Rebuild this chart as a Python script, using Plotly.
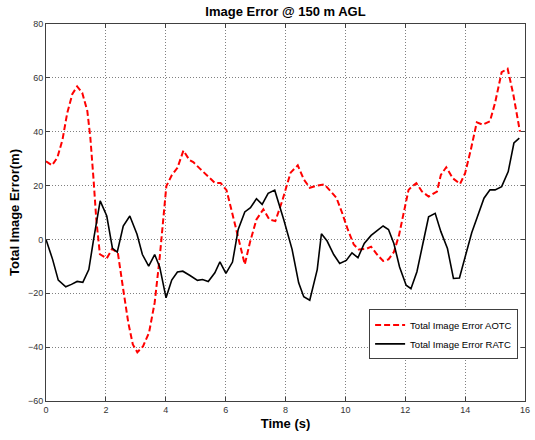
import plotly.graph_objects as go

# Total image error, AOTC (red dashed)
t_aotc = [0.0, 0.2, 0.38, 0.55, 0.71, 0.88, 1.04, 1.21, 1.38, 1.48, 1.59, 1.68, 1.8, 2.03,
          2.21, 2.4, 2.58, 2.75, 2.9, 3.05, 3.24, 3.44, 3.63, 3.8, 4.02, 4.2, 4.39, 4.59,
          4.79, 4.92, 5.14, 5.42, 5.64, 5.83, 6.03, 6.26, 6.48, 6.64, 6.81, 7.03, 7.26,
          7.46, 7.66, 7.89, 8.17, 8.41, 8.61, 8.81, 9.06, 9.3, 9.5, 9.7, 9.89, 10.08,
          10.28, 10.44, 10.7, 10.86, 11.06, 11.26, 11.44, 11.62, 11.79, 11.94, 12.11,
          12.22, 12.37, 12.56, 12.78, 13.06, 13.19, 13.37, 13.59, 13.83, 14.0, 14.19,
          14.39, 14.59, 14.83, 15.0, 15.22, 15.42, 15.61, 15.83]
aotc = [29.0, 27.5, 30.4, 37.0, 47.0, 54.0, 56.8, 54.5, 47.7, 38.0, 22.0, 7.4, -5.5, -7.0,
        -3.5, -5.0, -18.6, -31.0, -39.0, -41.9, -39.7, -34.7, -23.5, -6.5, 19.8, 23.8,
        26.6, 33.0, 29.5, 28.7, 26.3, 23.5, 21.0, 21.0, 18.3, 8.0, -1.9, -9.3, -1.2, 7.4,
        11.2, 7.4, 6.8, 14.3, 24.8, 27.5, 22.3, 19.2, 20.0, 20.4, 18.0, 15.5, 9.9, 3.7,
        -1.9, -3.7, -3.5, -2.7, -5.6, -8.0, -7.4, -4.7, 1.5, 9.7, 18.4, 19.6, 20.9, 17.8,
        15.9, 17.8, 24.0, 26.8, 22.7, 20.6, 24.6, 33.3, 43.5, 42.6, 43.9, 50.7, 62.1,
        63.4, 53.8, 40.1]

# Total image error, RATC (black solid)
t_ratc = [0.0, 0.22, 0.41, 0.66, 0.85, 1.04, 1.23, 1.43, 1.59, 1.81, 2.03, 2.22, 2.38,
          2.58, 2.8, 3.04, 3.22, 3.43, 3.63, 3.8, 4.01, 4.2, 4.39, 4.57, 4.81, 5.06,
          5.23, 5.42, 5.64, 5.81, 6.01, 6.23, 6.42, 6.64, 6.83, 7.03, 7.22, 7.42, 7.64,
          7.8, 7.94, 8.22, 8.44, 8.61, 8.81, 9.06, 9.2, 9.39, 9.61, 9.81, 10.03, 10.22,
          10.42, 10.63, 10.86, 11.06, 11.26, 11.44, 11.62, 11.81, 12.03, 12.19, 12.39,
          12.59, 12.78, 13.0, 13.19, 13.41, 13.61, 13.81, 14.0, 14.22, 14.41, 14.63,
          14.83, 15.0, 15.22, 15.44, 15.63, 15.81]
ratc = [0.0, -7.4, -15.1, -17.6, -16.7, -15.6, -15.9, -11.2, 0.0, 14.3, 8.7, -3.3, -4.7,
        5.0, 8.7, 1.9, -5.6, -9.9, -5.6, -10.3, -21.7, -15.1, -12.1, -11.8, -13.4, -15.2,
        -14.9, -15.6, -12.4, -8.3, -12.6, -8.4, 3.7, 10.2, 11.8, 15.1, 13.0, 17.1, 18.3,
        12.5, 7.4, -3.7, -16.1, -21.3, -22.6, -11.2, 2.1, -0.6, -5.6, -8.9, -7.8, -5.0,
        -6.8, -1.5, 1.5, 3.3, 5.0, 3.7, -1.5, -10.2, -17.0, -18.3, -12.0, -1.5, 8.4, 9.7,
        2.9, -3.4, -14.5, -14.3, -6.5, 2.5, 8.4, 15.3, 18.4, 18.4, 19.6, 25.2, 35.8, 37.6]

x_ticks = [0, 2, 4, 6, 8, 10, 12, 14, 16]
y_ticks = [-60, -40, -20, 0, 20, 40, 60, 80]

FONT = "Liberation Sans, Arial, sans-serif"

fig = go.Figure()
fig.add_trace(go.Scatter(
    x=t_aotc, y=aotc, mode="lines", name="Total Image Error AOTC",
    line=dict(color="#ff0000", width=2, dash="6px,3px"),
))
fig.add_trace(go.Scatter(
    x=t_ratc, y=ratc, mode="lines", name="Total Image Error RATC",
    line=dict(color="#000000", width=1.6),
))

axis_common = dict(
    showline=True, linecolor="#404040", linewidth=1, mirror="ticks",
    ticks="inside", ticklen=4, tickcolor="#404040",
    showgrid=True, gridcolor="#808080", gridwidth=1, griddash="1px,2px",
    zeroline=False, ticklabeloverflow="allow",
    tickfont=dict(family=FONT, size=9, color="#333333"),
)

fig.update_layout(
    width=535, height=440,
    margin=dict(l=46, r=5, t=24, b=39),
    paper_bgcolor="white", plot_bgcolor="white",
    font=dict(family=FONT, color="black"),
    showlegend=True,
    title=dict(
        text="<b>Image Error @ 150 m AGL</b>",
        x=0.5, xref="paper", xanchor="center",
        y=1 - 11 / 440, yanchor="middle",
        font=dict(family=FONT, size=13, color="black"),
    ),
    xaxis=dict(
        range=[0, 16], tickvals=x_ticks, ticktext=[str(v) for v in x_ticks],
        title=dict(text="<b>Time (s)</b>", font=dict(family=FONT, size=13), standoff=5),
        **axis_common,
    ),
    yaxis=dict(
        range=[-60, 80], tickvals=y_ticks,
        title=dict(text="<b>Total Image Error(m)</b>", font=dict(family=FONT, size=13), standoff=5),
        **axis_common,
    ),
    legend=dict(
        x=0.9856, y=0.243, xanchor="right", yanchor="top",
        bgcolor="white", bordercolor="#404040", borderwidth=1,
        font=dict(family=FONT, size=9.5, color="black"),
        tracegroupgap=0, itemwidth=30,
    ),
)

fig.write_html("out.html")
